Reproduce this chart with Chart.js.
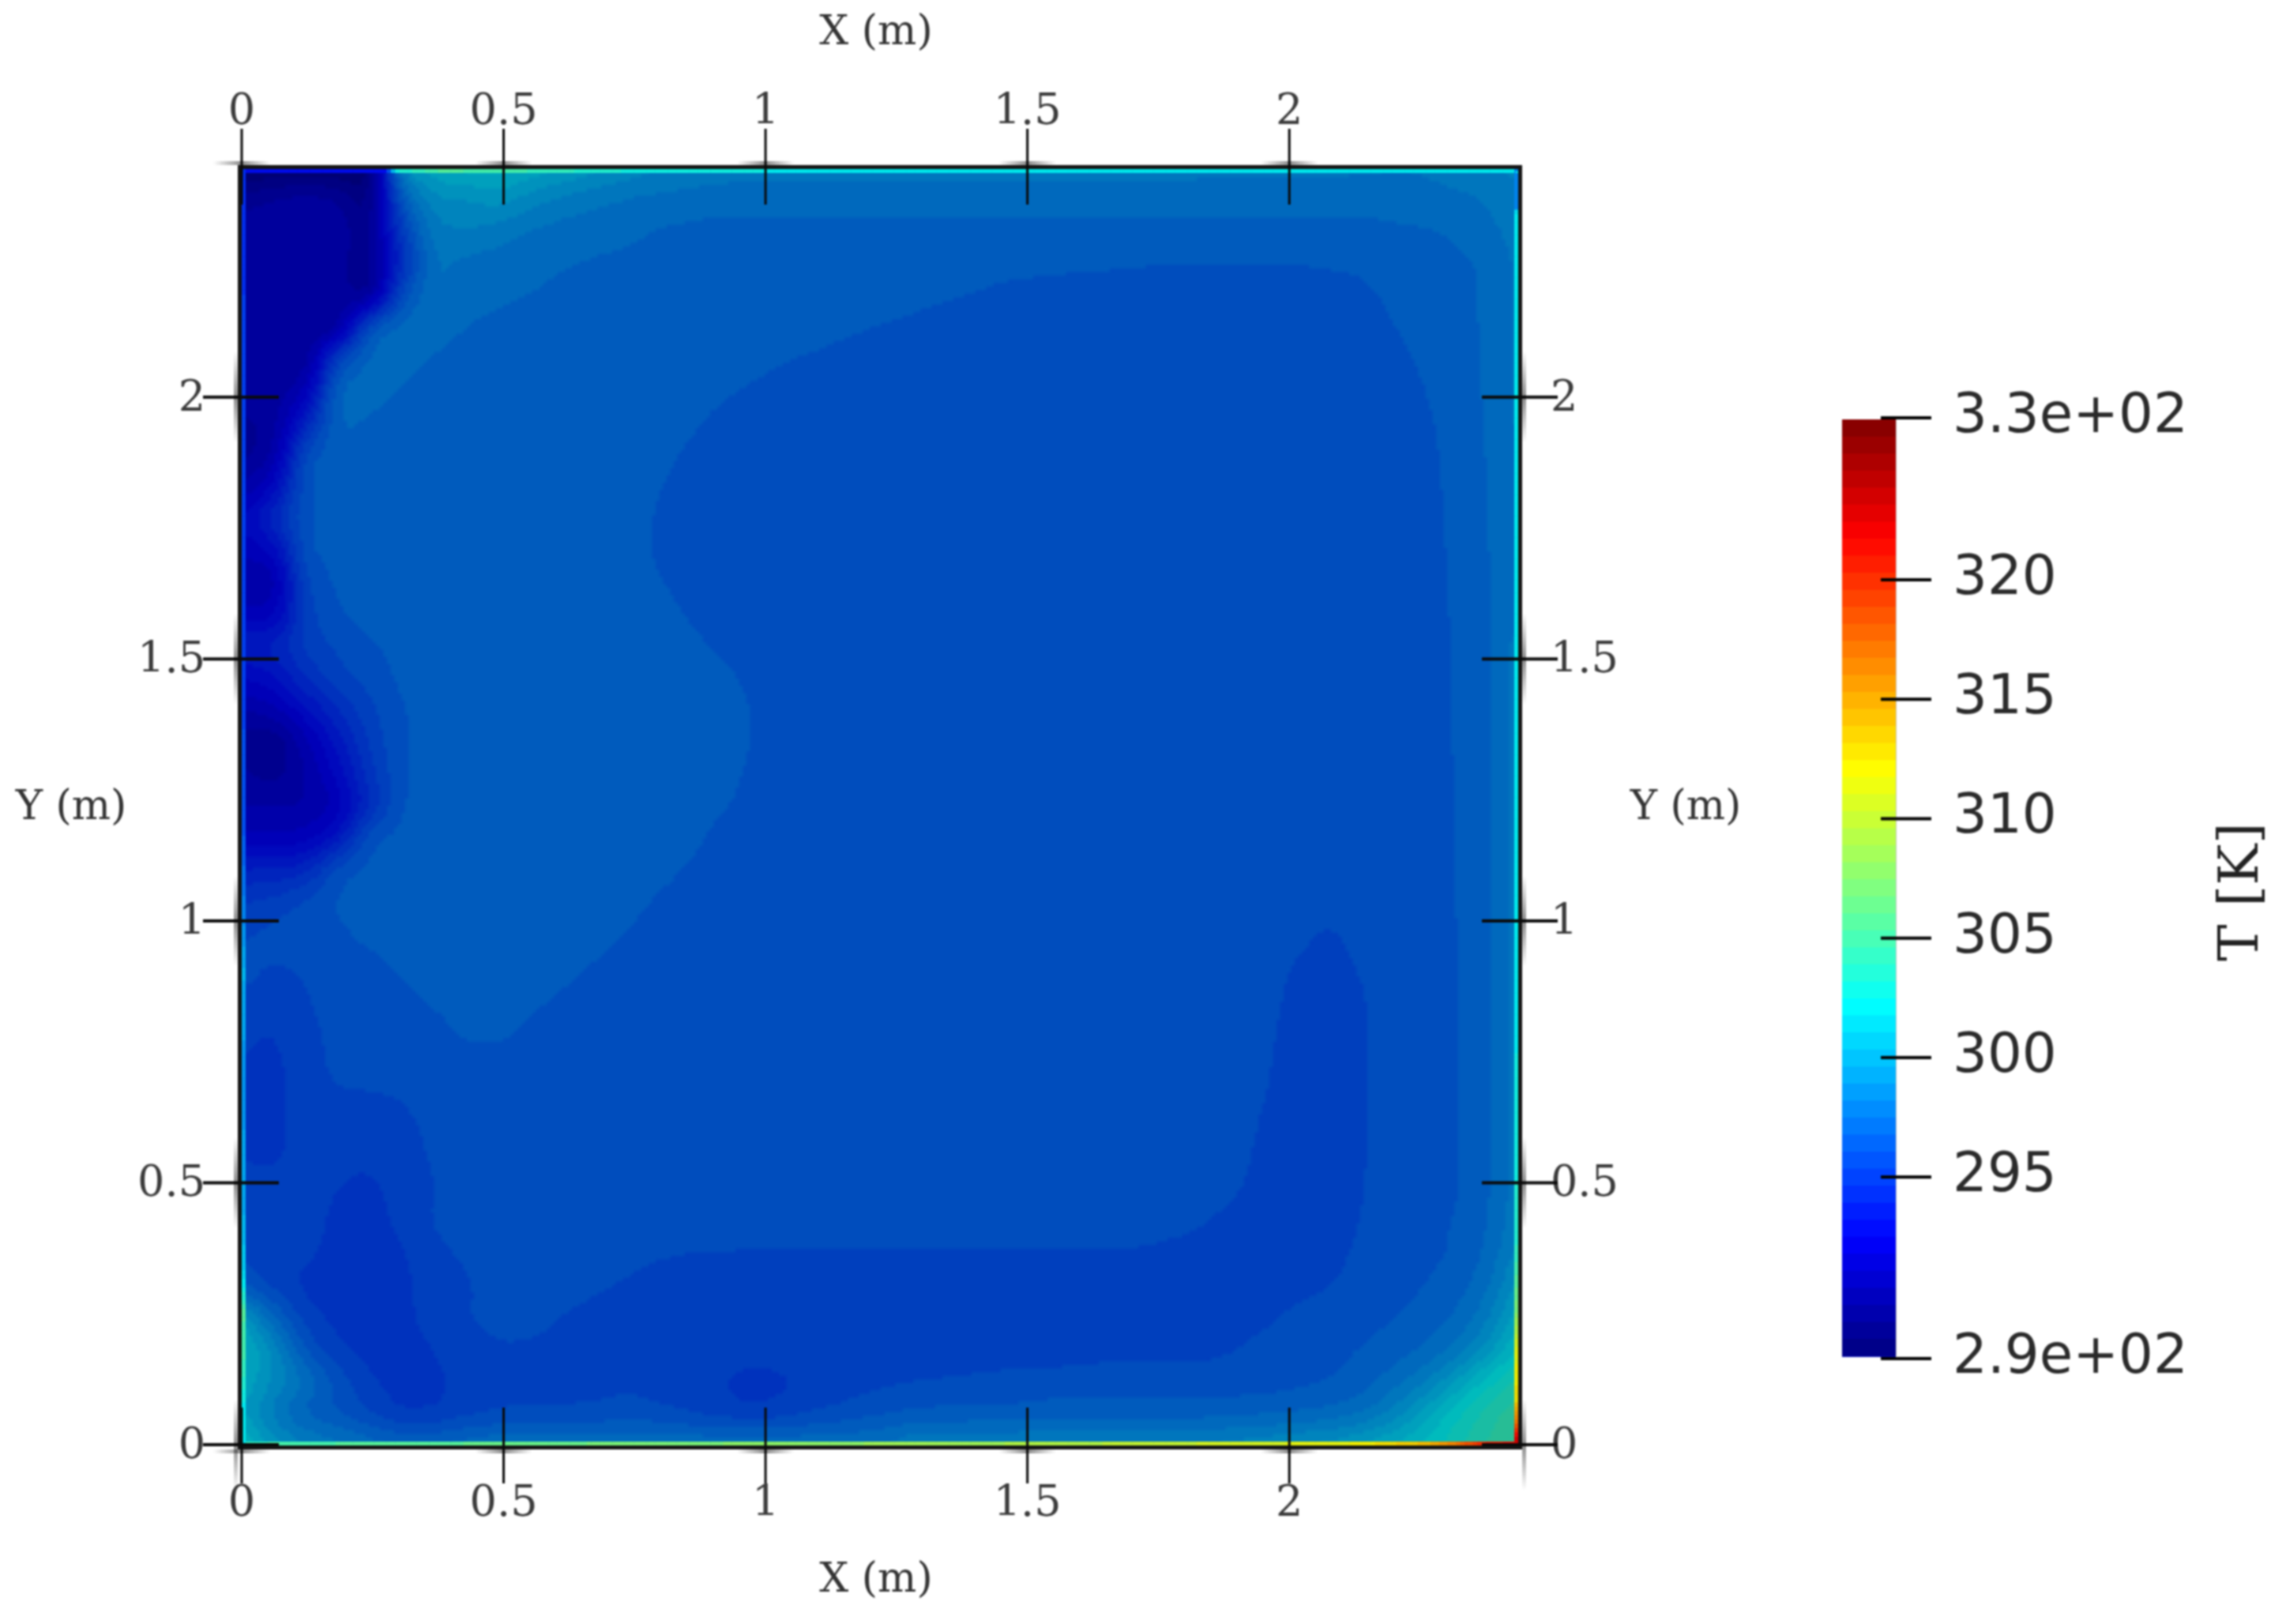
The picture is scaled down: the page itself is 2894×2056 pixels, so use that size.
<!DOCTYPE html>
<html>
<head>
<meta charset="utf-8">
<title>T [K]</title>
<script src="https://cdn.jsdelivr.net/npm/chart.js@4"></script>
<style>
  html, body { margin: 0; background: #fff; }
  #page { position: relative; width: 2894px; height: 2056px; overflow: hidden; }
  canvas { position: absolute; top: 0; filter: blur(0.8px); }
  #fieldChart { left: 0; }
  #barChart { left: 2200px; }
</style>
</head>
<body>
<div id="page">
  <canvas id="fieldChart" width="2894" height="2056"></canvas>
  <canvas id="barChart" width="694" height="2056"></canvas>
</div>
<script>
// axis ticks (m)
const tickValues = [0, 0.5, 1, 1.5, 2];
const tickLabels = ["0", "0.5", "1", "1.5", "2"];
const domainMax = 2.44;

// colour bar
const barMin = 287.5;
const barMax = 326.7;
const barBandCount = 55;
const barTickValues = [287.4, 295, 300, 305, 310, 315, 320, 326.78];
const barTickLabels = ["2.9e+02", "295", "300", "305", "310", "315", "320", "3.3e+02"];

// node positions of the temperature grid (m)
const gridNodes = [0, 0.061, 0.122, 0.183, 0.244, 0.305, 0.366, 0.427, 0.488, 0.549, 0.61, 0.671, 0.732, 0.793,
    0.854, 0.915, 0.976, 1.037, 1.098, 1.159, 1.22, 1.281, 1.342, 1.403, 1.464, 1.525, 1.586, 1.647, 1.708,
    1.769, 1.83, 1.891, 1.952, 2.013, 2.074, 2.135, 2.196, 2.257, 2.318, 2.379, 2.44];

// temperature (K) at the nodes, first row is the top of the cavity (y = 2.44)
const tempRows = [
    [288,288,288,288,288, 300,301,301.5,301.5,301, 300.5,300,299.5,299,298.8, 298.7,298.7,298.7,298.7,298.7, 298.7,298.7,298.7,298.7,298.7, 298.7,298.7,298.6,298.6,298.6, 298.5,298.5,298.5,298.5,298.4, 298.4,298.3,298.3,298.6,299, 299],
    [290,290.5,290.8,290.5,289, 297,299.5,299.5,300,299.3, 298.7,298.4,298.1,298,297.9, 297.7,297.7,297.7,297.7,297.7, 297.7,297.7,297.7,297.7,297.7, 297.7,297.7,297.7,297.7,297.7, 297.7,297.7,297.7,297.7,297.7, 297.7,297.7,297.9,298,298.2, 298.9],
    [290.8,290.9,290.9,290.8,289.8, 295.5,298.7,298.9,298.6,298.1, 297.9,297.8,297.7,297.4,297.3, 297.3,297.3,297.3,297.3,297.3, 297.3,297.3,297.3,297.3,297.3, 297.3,297.3,297.3,297.3,297.3, 297.3,297.3,297.3,297.3,297.3, 297.3,297.4,297.4,297.6,298, 298.5],
    [291,291,291,290.7,289.5, 294.5,298.4,298,297.85,297.7, 297.55,297.4,297.3,297.2,297.2, 297.1,297.1,297.1,297.05,297.05, 297,297,296.95,296.95,296.9, 296.9,296.9,296.85,296.8,296.75, 296.75,296.75,296.75,296.75,296.8, 296.85,297,297.1,297.3,297.6, 298.4],
    [291,291,291,290.8,289.6, 296.5,298.1,297.8,297.65,297.5, 297.3,297.2,297.1,297.1,297.05, 297.05,297,297,297,297, 297,296.95,296.85,296.75,296.65, 296.6,296.5,296.5,296.5,296.5, 296.5,296.5,296.5,296.55,296.6, 296.65,296.85,297,297.2,297.6, 298.4],
    [291,291,290.5,290,297, 297.9,297.8,297.5,297.25,297.1, 297,297,297,297,297, 297,297,297,297,296.9, 296.75,296.65,296.5,296.5,296.5, 296.5,296.5,296.5,296.5,296.5, 296.5,296.5,296.5,296.5,296.5, 296.55,296.75,296.95,297.2,297.6, 298.4],
    [291,291,290,296,297.8, 297.7,297.45,297.15,297,297, 297,297,297,297,297, 296.95,296.95,296.8,296.7,296.5, 296.45,296.45,296.45,296.45,296.45, 296.45,296.45,296.45,296.45,296.45, 296.45,296.45,296.45,296.45,296.45, 296.45,296.6,296.85,297.1,297.6, 298.4],
    [290.8,290.5,291.5,297.8,297.8, 297.45,297.1,297,297,297, 297,297,297,297,296.95, 296.85,296.7,296.55,296.45,296.45, 296.45,296.45,296.45,296.45,296.45, 296.45,296.45,296.45,296.45,296.45, 296.45,296.45,296.45,296.45,296.45, 296.45,296.5,296.75,297.05,297.6, 298.4],
    [290.2,290.5,294,297.7,297.4, 297.05,297,297,297,297, 297,297,297,297,296.85, 296.65,296.5,296.4,296.4,296.4, 296.4,296.4,296.4,296.4,296.4, 296.4,296.4,296.4,296.4,296.4, 296.4,296.4,296.4,296.4,296.4, 296.4,296.45,296.65,297,297.5, 298.4],
    [290,290.8,296.6,297.2,297, 297,297,297,297,297, 297,297,297,296.9,296.7, 296.55,296.4,296.4,296.4,296.4, 296.4,296.4,296.4,296.4,296.4, 296.4,296.4,296.4,296.4,296.4, 296.4,296.4,296.4,296.4,296.4, 296.4,296.4,296.6,296.95,297.5, 298.3],
    [291,292.5,296.8,296.95,297, 297,297,297,297,297, 297,297,297,296.8,296.6, 296.4,296.4,296.4,296.4,296.4, 296.4,296.4,296.4,296.4,296.4, 296.4,296.4,296.4,296.4,296.4, 296.4,296.4,296.4,296.4,296.4, 296.4,296.4,296.55,296.95,297.5, 298.3],
    [292.5,294.5,296.8,296.95,297, 297,297,297,297,297, 297,297,297,296.72,296.5, 296.4,296.4,296.4,296.4,296.4, 296.4,296.4,296.4,296.4,296.4, 296.4,296.4,296.4,296.4,296.4, 296.4,296.4,296.4,296.4,296.4, 296.4,296.4,296.5,296.9,297.5, 298.3],
    [292,292.5,296.75,296.95,297, 297,297,297,297,297, 297,297,297,296.7,296.5, 296.4,296.4,296.4,296.4,296.4, 296.4,296.4,296.4,296.4,296.4, 296.4,296.4,296.4,296.4,296.4, 296.4,296.4,296.4,296.4,296.4, 296.4,296.4,296.5,296.9,297.4, 298.3],
    [291,291,296.2,296.95,297, 297,297,297,297,297, 297,297,297,296.82,296.55, 296.4,296.4,296.4,296.4,296.4, 296.4,296.4,296.4,296.4,296.4, 296.4,296.4,296.4,296.4,296.4, 296.4,296.4,296.4,296.4,296.4, 296.4,296.4,296.5,296.85,297.4, 298.3],
    [292,292,295.7,296.75,297, 297,297,297,297,297, 297,297,297,297,296.72, 296.5,296.4,296.4,296.4,296.4, 296.4,296.4,296.4,296.4,296.4, 296.4,296.4,296.4,296.4,296.4, 296.4,296.4,296.4,296.4,296.4, 296.4,296.4,296.45,296.85,297.4, 298],
    [294,294.2,295.6,296.2,296.7, 297,297,297,297,297, 297,297,297,297,296.9, 296.68,296.5,296.4,296.4,296.4, 296.4,296.4,296.4,296.4,296.4, 296.4,296.4,296.4,296.4,296.4, 296.4,296.4,296.4,296.4,296.4, 296.4,296.4,296.45,296.8,297.35, 298.7],
    [292.5,293,294.7,295.8,296.3, 296.95,297,297,297,297, 297,297,297,297,297, 296.9,296.65,296.45,296.4,296.4, 296.4,296.4,296.4,296.4,296.4, 296.4,296.4,296.4,296.4,296.4, 296.4,296.4,296.4,296.4,296.4, 296.4,296.4,296.45,296.8,297.35, 298.7],
    [291,291.5,293,294.6,295.9, 296.75,297,297,297,297, 297,297,297,297,297, 297,296.75,296.5,296.4,296.4, 296.4,296.4,296.4,296.4,296.4, 296.4,296.4,296.4,296.4,296.4, 296.4,296.4,296.4,296.4,296.4, 296.4,296.4,296.45,296.8,297.35, 298.7],
    [290,289.5,291.5,293.5,295.5, 296.75,297,297,297,297, 297,297,297,297,297, 297,296.75,296.5,296.4,296.4, 296.4,296.4,296.4,296.4,296.4, 296.4,296.4,296.4,296.4,296.4, 296.4,296.4,296.4,296.4,296.4, 296.4,296.4,296.45,296.8,297.35, 298.7],
    [290.5,290,291,292.7,295, 296.7,297,297,297,297, 297,297,297,297,297, 297,296.65,296.45,296.4,296.4, 296.4,296.4,296.4,296.4,296.4, 296.4,296.4,296.4,296.4,296.4, 296.4,296.4,296.4,296.4,296.4, 296.4,296.4,296.45,296.75,297.35, 298.7],
    [291,291,291,291.8,294.5, 296.9,297,297,297,297, 297,297,297,297,297, 296.85,296.55,296.4,296.4,296.4, 296.4,296.4,296.4,296.4,296.4, 296.4,296.4,296.4,296.4,296.4, 296.4,296.4,296.4,296.4,296.4, 296.4,296.4,296.45,296.75,297.35, 298.7],
    [292,292,292,293.3,296.7, 297,297,297,297,297, 297,297,297,297,296.95, 296.6,296.4,296.4,296.4,296.4, 296.4,296.4,296.4,296.4,296.4, 296.4,296.4,296.4,296.4,296.4, 296.4,296.4,296.4,296.4,296.4, 296.4,296.4,296.45,296.75,297.35, 298.7],
    [294,294,294.3,296.6,297, 297,297,297,297,297, 297,297,297,297,296.7, 296.45,296.4,296.4,296.4,296.4, 296.4,296.4,296.4,296.4,296.4, 296.4,296.4,296.4,296.4,296.4, 296.4,296.4,296.4,296.4,296.4, 296.4,296.4,296.45,296.75,297.35, 298.7],
    [295.3,295.6,296.2,296.9,297, 297,297,297,297,297, 297,297,297,296.7,296.45, 296.4,296.4,296.4,296.4,296.4, 296.4,296.4,296.4,296.4,296.4, 296.4,296.4,296.4,296.4,296.4, 296.4,296.4,296.4,296.4,296.25, 296.4,296.4,296.45,296.75,297.35, 298.7],
    [296,296.3,296.5,296.65,296.95, 297,297,297,297,297, 297,297,296.75,296.5,296.4, 296.4,296.4,296.4,296.4,296.4, 296.4,296.4,296.4,296.4,296.4, 296.4,296.4,296.4,296.4,296.4, 296.4,296.4,296.3,296.2,295.95, 296.2,296.4,296.4,296.7,297.35, 298.7],
    [296.2,296,296.1,296.4,296.6, 296.85,297,297,297,297, 296.95,296.75,296.5,296.4,296.4, 296.4,296.4,296.4,296.4,296.4, 296.4,296.4,296.4,296.4,296.4, 296.4,296.4,296.4,296.4,296.4, 296.4,296.4,296.25,296,295.9, 296.08,296.3,296.4,296.7,297.35, 298.7],
    [296,295.9,296,296.35,296.5, 296.65,296.85,297,297,296.9, 296.72,296.5,296.35,296.35,296.35, 296.35,296.35,296.35,296.35,296.35, 296.35,296.35,296.35,296.35,296.35, 296.35,296.35,296.35,296.35,296.35, 296.35,296.35,296.2,295.95,295.85, 296,296.25,296.4,296.7,297.35, 298.7],
    [295.6,295.3,295.9,296.2,296.4, 296.5,296.6,296.9,296.95,296.68, 296.5,296.35,296.35,296.35,296.35, 296.35,296.35,296.35,296.35,296.35, 296.35,296.35,296.35,296.35,296.35, 296.35,296.35,296.35,296.35,296.35, 296.35,296.3,296.15,295.9,295.8, 296,296.25,296.4,296.7,297.35, 298.7],
    [295.3,295.1,295.9,296.15,296.3, 296.4,296.45,296.55,296.55,296.45, 296.35,296.35,296.35,296.35,296.35, 296.35,296.35,296.35,296.35,296.35, 296.35,296.35,296.35,296.35,296.35, 296.35,296.35,296.35,296.35,296.35, 296.35,296.3,296.12,295.85,295.8, 296,296.25,296.4,296.7,297.35, 298.7],
    [295.3,295,295.85,296.05,296.05, 296.1,296.3,296.35,296.35,296.35, 296.35,296.35,296.35,296.35,296.35, 296.35,296.35,296.35,296.35,296.35, 296.35,296.35,296.35,296.35,296.35, 296.35,296.35,296.35,296.35,296.35, 296.35,296.25,296.08,295.85,295.75, 296,296.25,296.4,296.7,297.35, 298.7],
    [295.3,295,295.8,295.65,295.6, 295.9,296.2,296.3,296.3,296.3, 296.35,296.35,296.35,296.35,296.35, 296.35,296.35,296.35,296.35,296.35, 296.35,296.35,296.35,296.35,296.35, 296.35,296.35,296.35,296.35,296.35, 296.35,296.25,296,295.8,295.75, 296,296.25,296.4,296.65,297.35, 298.7],
    [295.3,295.2,295.7,295.55,295.4, 295.75,296.15,296.3,296.3,296.3, 296.35,296.35,296.35,296.35,296.35, 296.35,296.35,296.35,296.35,296.35, 296.35,296.35,296.35,296.35,296.35, 296.35,296.35,296.35,296.35,296.35, 296.3,296.2,295.95,295.8,295.75, 296,296.25,296.4,296.65,297.35, 298.7],
    [295.6,295.55,295.65,295.3,295.2, 295.55,296.05,296.25,296.3,296.3, 296.35,296.35,296.35,296.35,296.35, 296.35,296.35,296.35,296.35,296.35, 296.35,296.35,296.35,296.35,296.35, 296.35,296.35,296.35,296.35,296.3, 296.2,296.12,295.9,295.75,295.75, 296.02,296.3,296.45,296.65,297.35, 298.7],
    [295.7,295.7,295.6,295.2,295.1, 295.5,296.15,296.3,296.35,296.35, 296.35,296.35,296.35,296.3,296.3, 296.3,296.3,296.3,296.3,296.3, 296.3,296.3,296.3,296.3,296.3, 296.3,296.3,296.3,296.3,296.2, 296.1,295.95,295.8,295.7,295.8, 296.05,296.35,296.5,296.8,297.4, 298.8],
    [295.9,295.7,295.5,295.1,295, 295.2,295.9,296.15,296.3,296.3, 296.3,296.3,296.2,296.12,296.05, 296.05,296,296,296,296, 296,296,296,296,296, 296,296,296,296,295.95, 295.9,295.8,295.75,295.75,295.85, 296.15,296.4,296.55,296.85,297.6, 299.3],
    [296.6,295.7,295.1,295,295, 295.15,295.65,296,296.2,296.3, 296.25,296.15,296.02,295.85,295.8, 295.8,295.8,295.8,295.8,295.8, 295.8,295.8,295.8,295.8,295.8, 295.8,295.8,295.8,295.8,295.8, 295.8,295.75,295.75,295.85,295.98, 296.3,296.5,296.75,297.1,298, 300],
    [300.5,297.5,295.6,295.1,295, 295.1,295.7,296.05,296.2,296.2, 296.05,295.9,295.7,295.7,295.7, 295.7,295.7,295.7,295.7,295.7, 295.7,295.7,295.7,295.7,295.7, 295.7,295.7,295.7,295.7,295.7, 295.7,295.8,295.9,296.2,296.4, 296.55,296.7,297,297.5,298.7, 301],
    [301.5,299.5,296.6,295.4,295.05, 295.05,295.3,295.8,296.02,296, 295.9,295.75,295.7,295.7,295.7, 295.7,295.7,295.7,295.7,295.7, 295.7,295.7,295.7,295.7,295.7, 295.7,295.7,295.85,295.85,295.85, 295.85,296,296.25,296.4,296.6, 296.75,297.05,297.5,298.3,299.8, 302],
    [301,299.6,298.2,296.5,295.4, 295.05,295.2,295.5,295.7,295.8, 295.85,295.85,295.9,295.8,295.6, 295.3,295.1,295.2,295.5,295.7, 295.85,296,296.05,296.15,296.25, 296.3,296.35,296.35,296.35,296.35, 296.35,296.35,296.4,296.55,296.7, 297.05,297.8,298.7,300.3,302.2, 303.5],
    [300.5,298.5,297.2,296.7,296, 295.2,295.3,295.7,296,296.1, 296.1,296.15,296.3,296.2,295.9, 295.6,295.35,295.6,296,296.3, 296.6,296.8,296.9,296.9,296.9, 297.1,297.1,297.1,297.1,297.1, 297.1,297.2,297.3,297.4,297.6, 298,299,300.5,302.3,303.5, 304.5],
    [302,300,299,298.5,298, 297.5,297.5,298,298.2,298.2, 298.2,298.2,298.2,298.2,298.2, 298.2,298.2,298.2,298.2,298.2, 298.2,299,299,299,299, 299,299,299,299,299, 299,299.3,299.5,299.8,300, 300.5,301.2,302,303,304, 305]
];

// thin warmer layer in the wall cells: station along the wall (m) and temperature (K)
const wallTopStations = [0, 0.27, 0.29, 0.38, 0.49, 0.74, 1.21, 2.44];
const wallTopTemps = [292.5, 292.5, 303, 305.5, 305, 303, 302, 301.8];
const wallRightStations = [0, 0.014, 0.04, 0.083, 0.184, 0.25, 0.334, 0.39, 0.8, 2.35, 2.355, 2.44];
const wallRightTemps = [324, 322, 317, 313, 311, 307.5, 305, 303.5, 302.3, 302, 298, 298];
const wallBottomStations = [0, 0.07, 0.74, 1.5, 2.1, 2.25, 2.3, 2.36, 2.44];
const wallBottomTemps = [304, 305, 307, 309, 311.5, 314, 316, 320, 322];
const wallLeftStations = [0, 0.08, 0.147, 0.25, 0.29, 0.33, 0.44, 0.7, 0.9, 1, 1.16, 1.47, 2.44];
const wallLeftTemps = [302, 302.5, 304.5, 305.5, 303, 301, 299.5, 298.5, 299.7, 298, 296, 295, 294.5];

const bandStep = (barMax - barMin) / barBandCount;

// jet colours, quantised to the bands of the colour bar
const bandRgb = (temp, shade) => {
    const band = Math.max(0, Math.min(barBandCount - 1, Math.floor((temp - barMin) / bandStep)));
    const t = (band + 0.5) / barBandCount;
    const part = (v) => Math.max(0, Math.min(1, v)) * 255 * shade;
    return [part(1.5 - Math.abs(4 * t - 3)), part(1.5 - Math.abs(4 * t - 2)), part(1.5 - Math.abs(4 * t - 1))];
};

const cssColor = (rgb) => `rgb(${Math.round(rgb[0])},${Math.round(rgb[1])},${Math.round(rgb[2])})`;

const tempAt = (u, v) => {
    const step = gridNodes[1] - gridNodes[0];
    const last = gridNodes.length - 1;
    const fx = Math.min(last - 0.001, Math.max(0, u / step));
    const fy = Math.min(last - 0.001, Math.max(0, (domainMax - v) / step));
    const i = Math.floor(fx);
    const j = Math.floor(fy);
    const a = fx - i;
    const b = fy - j;
    return (tempRows[j][i] * (1 - a) + tempRows[j][i + 1] * a) * (1 - b)
        + (tempRows[j + 1][i] * (1 - a) + tempRows[j + 1][i + 1] * a) * b;
};

// small box average so the contours do not show the kinks of the grid
const smoothTempAt = (u, v) => {
    const r = 0.02;
    let sum = 0;
    for (let dx = -1; dx <= 1; dx++) {
        for (let dy = -1; dy <= 1; dy++) {
            sum += tempAt(u + dx * r, v + dy * r);
        }
    }
    return sum / 9;
};

const wallTemp = (stations, temps, s) => {
    for (let i = 1; i < stations.length; i++) {
        if (s <= stations[i]) {
            const a = (s - stations[i - 1]) / (stations[i] - stations[i - 1]);
            return temps[i - 1] + (temps[i] - temps[i - 1]) * a;
        }
    }
    return temps[temps.length - 1];
};

const fieldPoints = [];
tempRows.forEach((row, j) => {
    row.forEach((temp, i) => {
        fieldPoints.push({ x: gridNodes[i], y: gridNodes[gridNodes.length - 1 - j], t: temp });
    });
});

const fieldPlugin = {
    id: "field",
    beforeDatasetsDraw(chart) {
        const { ctx, scales } = chart;
        const left = scales.x.getPixelForValue(0);
        const right = scales.x.getPixelForValue(domainMax);
        const top = scales.y.getPixelForValue(domainMax);
        const bottom = scales.y.getPixelForValue(0);
        const size = 352;
        const off = document.createElement("canvas");
        off.width = size;
        off.height = size;
        const offCtx = off.getContext("2d");
        const image = offCtx.createImageData(size, size);
        for (let py = 0; py < size; py++) {
            for (let px = 0; px < size; px++) {
                const u = ((px + 0.5) / size) * domainMax;
                const v = domainMax - ((py + 0.5) / size) * domainMax;
                const rgb = bandRgb(smoothTempAt(u, v), 0.74);
                const at = (py * size + px) * 4;
                image.data[at] = rgb[0];
                image.data[at + 1] = rgb[1];
                image.data[at + 2] = rgb[2];
                image.data[at + 3] = 255;
            }
        }
        offCtx.putImageData(image, 0, 0);
        ctx.save();
        ctx.imageSmoothingEnabled = true;
        ctx.imageSmoothingQuality = "high";
        ctx.drawImage(off, left, top, right - left, bottom - top);
        ctx.restore();
    },
    afterDatasetsDraw(chart) {
        const { ctx, scales } = chart;
        const left = scales.x.getPixelForValue(0);
        const right = scales.x.getPixelForValue(domainMax);
        const top = scales.y.getPixelForValue(domainMax);
        const bottom = scales.y.getPixelForValue(0);
        const strip = 5;
        ctx.save();

        // wall layer
        const pieces = 300;
        for (let k = 0; k < pieces; k++) {
            const s0 = (k / pieces) * domainMax;
            const s1 = ((k + 1) / pieces) * domainMax;
            const x0 = scales.x.getPixelForValue(s0);
            const x1 = scales.x.getPixelForValue(s1);
            const y0 = scales.y.getPixelForValue(s0);
            const y1 = scales.y.getPixelForValue(s1);
            ctx.fillStyle = cssColor(bandRgb(wallTemp(wallTopStations, wallTopTemps, s0), 0.92));
            ctx.fillRect(x0, top + 3, x1 - x0 + 0.5, strip);
            ctx.fillStyle = cssColor(bandRgb(wallTemp(wallBottomStations, wallBottomTemps, s0), 0.92));
            ctx.fillRect(x0, bottom - 4, x1 - x0 + 0.5, strip);
            ctx.fillStyle = cssColor(bandRgb(wallTemp(wallLeftStations, wallLeftTemps, s0), 0.92));
            ctx.fillRect(left, y1, strip, y0 - y1 + 0.5);
            ctx.fillStyle = cssColor(bandRgb(wallTemp(wallRightStations, wallRightTemps, s0), 0.92));
            ctx.fillRect(right - 7, y1, strip, y0 - y1 + 0.5);
        }

        // frame
        ctx.fillStyle = "#141414";
        ctx.fillRect(left - 5, top - 2, right - left + 8, 5);
        ctx.fillRect(left - 5, bottom + 1, right - left + 8, 5);
        ctx.fillRect(left - 5, top - 2, 5, bottom - top + 8);
        ctx.fillRect(right - 2, top - 2, 5, bottom - top + 8);

        // crossing ticks on all four sides, with the soft smear along the frame
        const arm = 48;
        const smear = 36;
        ctx.fillStyle = "#0a0a0a";
        tickValues.forEach((value) => {
            const px = scales.x.getPixelForValue(value);
            const py = scales.y.getPixelForValue(value);
            [top, bottom + 1].forEach((edge) => {
                ctx.fillRect(px - 1.5, edge - arm, 3, arm * 2);
                const g = ctx.createLinearGradient(px - smear, 0, px + smear, 0);
                g.addColorStop(0, "rgba(0,0,0,0)");
                g.addColorStop(0.5, "rgba(0,0,0,0.45)");
                g.addColorStop(1, "rgba(0,0,0,0)");
                ctx.fillStyle = g;
                ctx.fillRect(px - smear, edge === top ? edge - 7 : edge + 5, smear * 2, 5);
                ctx.fillStyle = "#0a0a0a";
            });
            [left - 1, right].forEach((edge) => {
                ctx.fillRect(edge - arm, py - 2, arm * 2, 4);
                const g = ctx.createLinearGradient(0, py - smear * 1.6, 0, py + smear * 1.6);
                g.addColorStop(0, "rgba(0,0,0,0)");
                g.addColorStop(0.5, "rgba(0,0,0,0.45)");
                g.addColorStop(1, "rgba(0,0,0,0)");
                ctx.fillStyle = g;
                ctx.fillRect(edge < right ? edge - 9 : edge + 3, py - smear * 1.6, 5, smear * 3.2);
                ctx.fillStyle = "#0a0a0a";
            });
        });

        // axis titles
        ctx.fillStyle = "#333";
        ctx.font = "52px 'DejaVu Serif'";
        ctx.textAlign = "center";
        ctx.textBaseline = "middle";
        ctx.fillText("X (m)", 1109, 42);
        ctx.fillText("X (m)", 1109, 2001);
        ctx.fillText("Y (m)", 90, 1023);
        ctx.fillText("Y (m)", 2134, 1023);
        ctx.restore();
    },
};

const tickFormat = (value) => tickLabels[tickValues.indexOf(value)] ?? "";
const tickFont = { family: "'DejaVu Serif'", size: 54 };

const fixedAxis = (position, size, padding) => ({
    type: "linear",
    position: position,
    min: 0,
    max: domainMax,
    grid: { display: false },
    border: { display: false },
    afterBuildTicks: (scale) => {
        scale.ticks = tickValues.map((value) => ({ value: value }));
    },
    afterFit: (scale) => {
        if (position === "top" || position === "bottom") {
            scale.height = size;
        } else {
            scale.width = size;
        }
    },
    ticks: {
        callback: tickFormat,
        font: tickFont,
        color: "#3a3a3a",
        padding: padding,
        labelOffset: position === "left" || position === "right" ? 3 : 0,
        autoSkip: false,
        maxRotation: 0,
        minRotation: 0,
    },
});

new Chart(document.getElementById("fieldChart"), {
    type: "scatter",
    data: {
        datasets: [
            {
                label: "T [K]",
                data: fieldPoints,
                pointRadius: 0,
                xAxisID: "x",
                yAxisID: "y",
            },
        ],
    },
    options: {
        responsive: false,
        animation: false,
        layout: { padding: 0 },
        plugins: { legend: { display: false }, tooltip: { enabled: false } },
        scales: {
            x: fixedAxis("bottom", 227, 36),
            xTop: fixedAxis("top", 211, 28),
            y: fixedAxis("left", 306, 38),
            yRight: fixedAxis("right", 970, 31),
        },
    },
    plugins: [fieldPlugin],
});

// colour bar: every band reaches down to the bottom and the lower bands sit on top, so no seams show
const barDatasets = [];
for (let k = 0; k < barBandCount; k++) {
    barDatasets.push({
        data: [[barMin, barMin + bandStep * (k + 1)]],
        backgroundColor: cssColor(bandRgb(barMin + bandStep * (k + 0.5), 1)),
        borderWidth: 0,
        grouped: false,
        barPercentage: 1,
        categoryPercentage: 1,
    });
}

const barPlugin = {
    id: "barTicks",
    afterDatasetsDraw(chart) {
        const { ctx, chartArea, scales } = chart;
        ctx.save();
        ctx.fillStyle = "#c4c4c4";
        ctx.fillRect(chartArea.right, scales.y.getPixelForValue(barMax), 1, scales.y.getPixelForValue(barMin) - scales.y.getPixelForValue(barMax));
        ctx.fillStyle = "#000";
        barTickValues.forEach((value) => {
            const py = scales.y.getPixelForValue(value);
            ctx.fillRect(chartArea.right - 19, py - 2, 64, 4);
        });
        ctx.fillStyle = "#222";
        ctx.font = "70px 'DejaVu Serif'";
        ctx.textAlign = "center";
        ctx.textBaseline = "middle";
        ctx.translate(640, 1129);
        ctx.rotate(-Math.PI / 2);
        ctx.fillText("T [K]", 0, 0);
        ctx.restore();
    },
};

new Chart(document.getElementById("barChart"), {
    type: "bar",
    data: { labels: ["T"], datasets: barDatasets },
    options: {
        responsive: false,
        animation: false,
        layout: { padding: { left: 132, top: 529, bottom: 336, right: 0 } },
        plugins: { legend: { display: false }, tooltip: { enabled: false } },
        scales: {
            x: { display: false },
            y: {
                position: "right",
                min: 287.4,
                max: 326.78,
                grid: { display: false },
                border: { display: false },
                afterBuildTicks: (scale) => {
                    scale.ticks = barTickValues.map((value) => ({ value: value }));
                },
                afterFit: (scale) => {
                    scale.width = 494;
                },
                ticks: {
                    callback: (value) => barTickLabels[barTickValues.indexOf(value)] ?? "",
                    font: { family: "'DejaVu Sans'", size: 69 },
                    color: "#2a2a2a",
                    padding: 64,
                    autoSkip: false,
                    labelOffset: 0,
                },
            },
        },
    },
    plugins: [barPlugin],
});
</script>
</body>
</html>
